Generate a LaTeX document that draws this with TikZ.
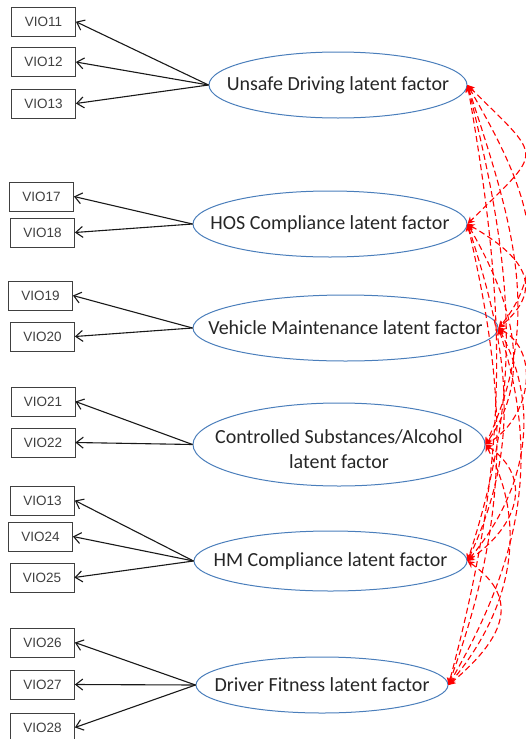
\documentclass[tikz,border=0pt]{standalone}
\usepackage{fontspec}
\setmainfont{Carlito}
\newfontfamily\boxfont{Liberation Sans}
\usetikzlibrary{shapes.geometric,arrows.meta}
\definecolor{latblue}{RGB}{74,126,187}
\begin{document}
\begin{tikzpicture}[x=1pt,y=1pt,
 vbox/.style={draw=black!75, line width=0.8pt, minimum width=64pt, minimum height=29pt, inner sep=0pt, font=\boxfont\fontsize{13.5}{13.5}\selectfont, text=black!75},
 lat/.style={draw=latblue, line width=1pt, ellipse, inner sep=0pt},
 lbl/.style={font=\fontsize{20}{25}\selectfont, text=black!85, align=center, inner sep=0pt},
 ld/.style={draw=black!90, line width=1.1pt, -{Straight Barb[length=7pt,width=11pt,line width=1.1pt]}},
 cov/.style={draw=red, line width=1.1pt, dash pattern=on 6pt off 3.5pt, {Stealth[length=7pt,width=7pt]}-{Stealth[length=7pt,width=7pt]}}
]
\useasboundingbox (0,0) rectangle (525,-739);

% latent factors
\node[lat, minimum width=258pt, minimum height=66pt] (U) at (338,-85) {};
\node[lat, minimum width=274pt, minimum height=66pt] (H) at (330,-224) {};
\node[lat, minimum width=305pt, minimum height=66pt] (V) at (345.5,-328) {};
\node[lat, minimum width=292pt, minimum height=83pt] (C) at (339,-444.5) {};
\node[lat, minimum width=273pt, minimum height=60pt] (M) at (330.5,-561) {};
\node[lat, minimum width=252pt, minimum height=56pt] (D) at (322,-685) {};

\node[lbl] (tU) at (U) {Unsafe Driving latent factor};
\node[lbl] (tH) at (H) {HOS Compliance latent factor};
\node[lbl] (tV) at (V) {Vehicle Maintenance latent factor};
\node[lbl] (tC) at (339,-449) {Controlled Substances/Alcohol\\latent factor};
\node[lbl] (tM) at (M) {HM Compliance latent factor};
\node[lbl] (tD) at (D) {Driver Fitness latent factor};

% indicators
\node[vbox] (b11) at (43.5,-21.7) {VIO11};
\node[vbox] (b12) at (43.5,-62) {VIO12};
\node[vbox] (b13) at (43.5,-103.5) {VIO13};
\node[vbox] (b17) at (41.5,-196.5) {VIO17};
\node[vbox] (b18) at (42.5,-232.5) {VIO18};
\node[vbox] (b19) at (40.5,-295.5) {VIO19};
\node[vbox] (b20) at (42.5,-336.5) {VIO20};
\node[vbox] (b21) at (43,-401.5) {VIO21};
\node[vbox] (b22) at (43,-442.5) {VIO22};
\node[vbox] (b13b) at (42.5,-500.5) {VIO13};
\node[vbox] (b24) at (40.5,-536.5) {VIO24};
\node[vbox] (b25) at (42,-577.5) {VIO25};
\node[vbox] (b26) at (42.5,-642.5) {VIO26};
\node[vbox] (b27) at (42.5,-684.5) {VIO27};
\node[vbox] (b28) at (42.5,-727.5) {VIO28};

% loadings
\foreach \f/\b in {U/b11,U/b12,U/b13,H/b17,H/b18,V/b19,V/b20,C/b21,C/b22,M/b13b,M/b24,M/b25,D/b26,D/b27,D/b28}
  \draw[ld] (\f.west) -- (\b.east);

% covariances
\draw[cov] (U.east) to[out=-45,in=45,looseness=2] (H.east);
\draw[cov] (U.east) to[out=-60,in=50] (V.east);
\draw[cov] (U.east) to[out=-72,in=65] (C.east);
\draw[cov] (U.east) to[out=-76,in=72] (M.east);
\draw[cov] (U.east) to[out=-80,in=75] (D.east);
\draw[cov] (H.east) to[out=-30,in=40,looseness=1.5] (V.east);
\draw[cov] (H.east) to[out=-60,in=55] (C.east);
\draw[cov] (H.east) to[out=-72,in=65] (M.east);
\draw[cov] (H.east) to[out=-77,in=70] (D.east);
\draw[cov] (V.east) to[out=-30,in=30,looseness=1.1] (C.east);
\draw[cov] (V.east) to[out=-62,in=50] (M.east);
\draw[cov] (V.east) to[out=-72,in=60] (D.east);
\draw[cov] (C.east) to[out=-35,in=35,looseness=1.3] (M.east);
\draw[cov] (C.east) to[out=-62,in=50] (D.east);
\draw[cov] (M.east) to[out=-35,in=40,looseness=1.4] (D.east);
\end{tikzpicture}
\end{document}
